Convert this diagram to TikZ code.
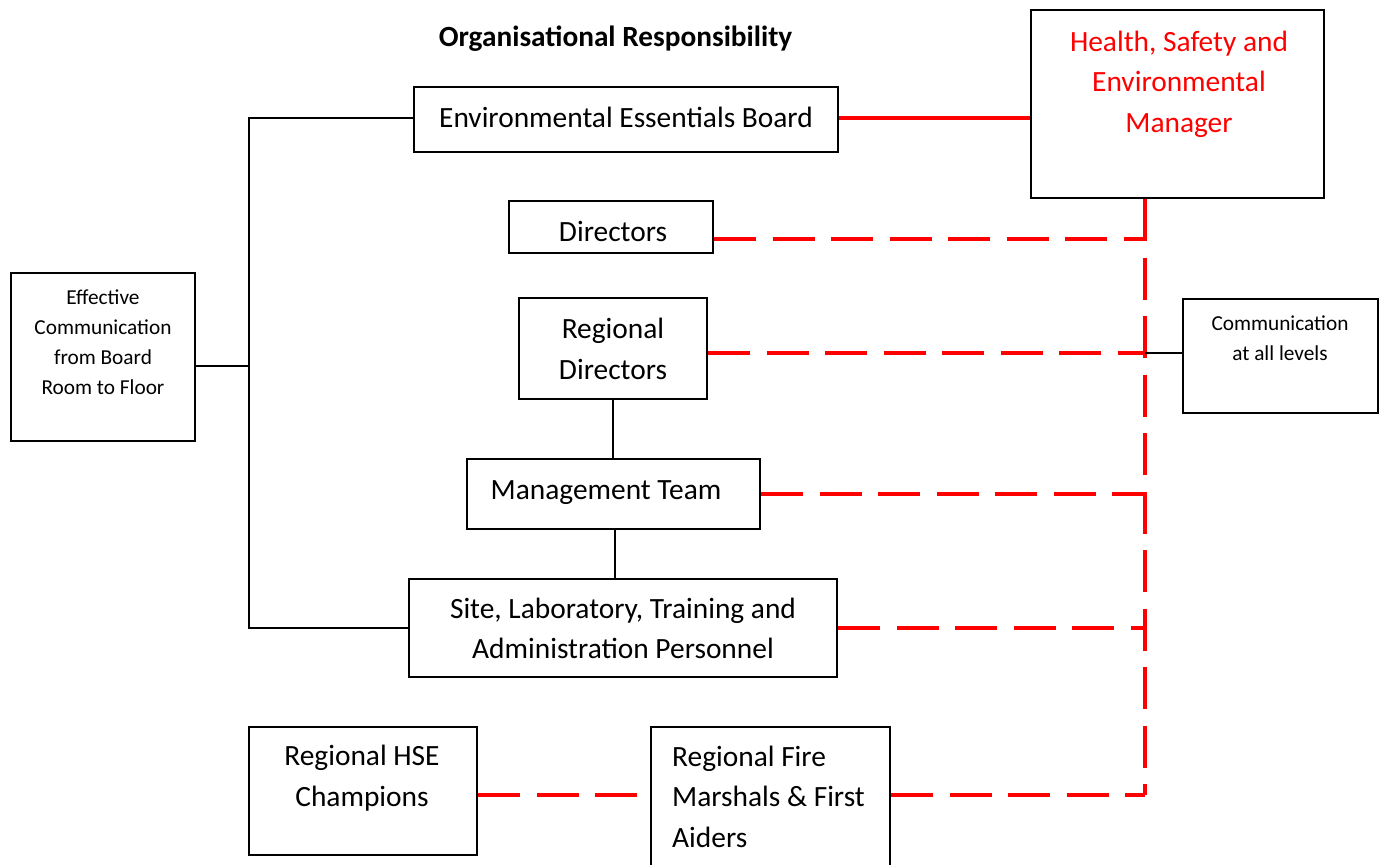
\documentclass[tikz,border=0pt]{standalone}
\usepackage{fontspec}
\setmainfont{Carlito}
\newcommand\boxfont{\fontsize{29.4}{40.5}\selectfont}
\newcommand\notefont{\fontsize{21.3}{30}\selectfont}
\newcommand\headfont{\fontsize{29.3}{32}\selectfont\bfseries}
\definecolor{hsered}{RGB}{255,0,0}

\begin{document}
\begin{tikzpicture}[x=1pt,y=-1pt,
  frame/.style={draw=black, line width=2pt, inner sep=0pt},
  lbl/.style={inner sep=0pt, align=center, font=\boxfont,
    execute at begin node=\strut, execute at end node=\strut},
  note/.style={inner sep=0pt, align=center, font=\notefont,
    execute at begin node=\strut, execute at end node=\strut},
  link/.style={draw=black, line width=1.3pt},
  solidred/.style={draw=hsered, line width=4.2pt},
  dashred/.style={draw=hsered, line width=4.2pt, dash pattern=on 42pt off 16.5pt}]

\clip (0,0) rectangle (1385,865);
\fill[white] (0,0) rectangle (1385,865);

% heading
\node[inner sep=0pt, font=\headfont] (title) at (615.5,39) {Organisational Responsibility};

% boxes
\node[frame, minimum width=424pt, minimum height=65pt]  (eeb)  at (626,119.5)  {};
\node[frame, minimum width=293pt, minimum height=188pt] (hse)  at (1177.5,104) {};
\node[frame, minimum width=204pt, minimum height=52pt]  (dir)  at (611,227)    {};
\node[frame, minimum width=188pt, minimum height=101pt] (rd)   at (613,348.5)  {};
\node[frame, minimum width=293pt, minimum height=70pt]  (mt)   at (613.5,494)  {};
\node[frame, minimum width=428pt, minimum height=98pt]  (site) at (623,628)    {};
\node[frame, minimum width=228pt, minimum height=128pt] (hsec) at (363,791)    {};
\node[frame, minimum width=239pt, minimum height=139pt] (rfm)  at (770.5,796.5) {};
\node[frame, minimum width=184pt, minimum height=168pt] (eff)  at (103,357)    {};
\node[frame, minimum width=195pt, minimum height=114pt] (comm) at (1280.5,355.5) {};

% box texts
\node[lbl] (eeb-t)  at (626,119)   {Environmental Essentials Board};
\node[lbl, text=hsered] (hse-t) at (1179,87.5) {Health, Safety and\\Environmental\\Manager};
\node[lbl] (dir-t)  at (613,233)   {Directors};
\node[lbl] (rd-t)   at (613,355)   {Regional\\Directors};
\node[lbl] (mt-t)   at (606,491)   {Management Team};
\node[lbl] (site-t) at (623,634.5) {Site, Laboratory, Training and\\Administration Personnel};
\node[lbl] (hsec-t) at (362,782)   {Regional HSE\\Champions};
\node[lbl, align=left, anchor=west] (rfm-t) at (672,802.5) {Regional Fire\\Marshals \& First\\Aiders};
\node[note] (eff-t)  at (103,346.5) {Effective\\Communication\\from Board\\Room to Floor};
\node[note] (comm-t) at (1280,342.5)  {Communication\\at all levels};

% reporting lines
\coordinate (busT) at (249,118);
\coordinate (busB) at (249,628);
\coordinate (effR) at ([yshift=-9pt]eff.east);
\draw[link] (eeb.west |- busT) -- (busT) -- (busB) -- (site.west);
\draw[link] (effR) -- (effR -| busT);
\draw[link] (rd.south) -- (rd.south |- mt.north);
\draw[link] ([xshift=1.5pt]mt.south) -- ([xshift=1.5pt]mt.south |- site.north);

% health and safety lines
\coordinate (spine) at (1145,795);
\coordinate (dirR)  at ([yshift=-12pt]dir.east);
\coordinate (rdR)   at ([yshift=-4.5pt]rd.east);
\coordinate (hsecR) at ([yshift=-4pt]hsec.east);
\coordinate (rfmR)  at (rfm.east |- hsecR);

\draw[solidred] (eeb.east |- busT) -- (hse.west |- busT);
\draw[dashred] (spine |- hse.south) -- (spine);
\draw[dashred] (dirR) -- (dirR -| spine);
\draw[dashred] (rdR) -- (rdR -| spine);
\draw[dashred] (mt.east) -- (mt.east -| spine);
\draw[dashred] (site.east) -- (site.east -| spine);
\draw[dashred] (rfmR) -- (spine);
\draw[dashred] (hsecR) -- (hsecR -| rfm.west);
\draw[link] (comm.west |- 0,353) -- (spine |- 0,353);
\end{tikzpicture}
\end{document}
